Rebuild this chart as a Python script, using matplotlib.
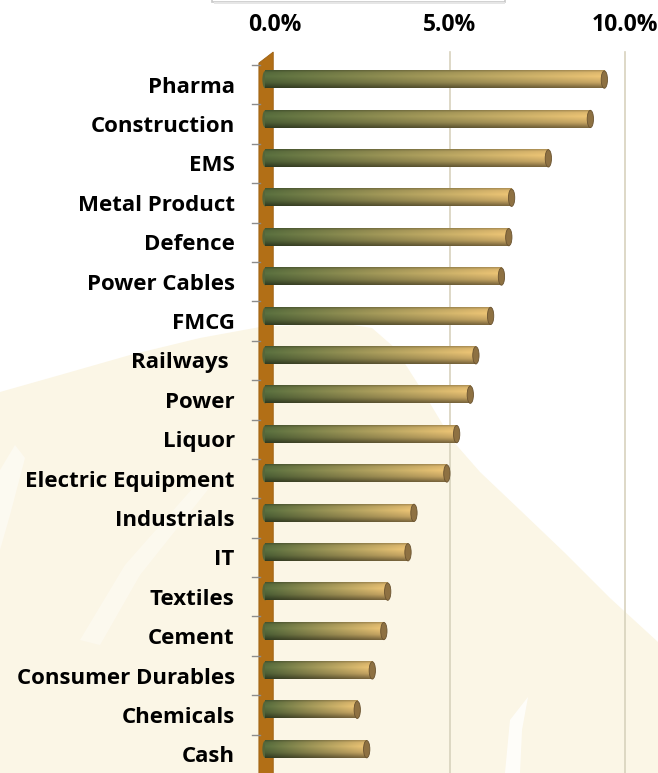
import numpy as np
import matplotlib
matplotlib.use("Agg")
import matplotlib.pyplot as plt
from matplotlib.patches import Polygon, Ellipse, Rectangle

# sector weights (%), top to bottom as shown
sectors = ["Pharma", "Construction", "EMS", "Metal Product", "Defence",
           "Power Cables", "FMCG", "Railways ", "Power", "Liquor",
           "Electric Equipment", "Industrials", "IT", "Textiles", "Cement",
           "Consumer Durables", "Chemicals", "Cash"]
weights = [9.50, 9.10, 7.90, 6.85, 6.77, 6.56, 6.25, 5.83, 5.67, 5.28,
           5.00, 4.06, 3.89, 3.31, 3.20, 2.87, 2.44, 2.71]
xticks = [0.0, 5.0, 10.0]

W, H = 658, 773
plt.rcParams["font.family"] = ["Open Sans", "DejaVu Sans"]
plt.rcParams["font.weight"] = "bold"

fig = plt.figure(figsize=(W / 100, H / 100), dpi=100)
fig.patch.set_facecolor("white")

# background watermark, drawn in pixel coordinates
bg = fig.add_axes([0, 0, 1, 1], zorder=-1)
bg.set_xlim(0, W)
bg.set_ylim(H, 0)
bg.axis("off")
cream = "#fbf6e6"
dome = [(0, 773), (0, 392), (60, 375), (130, 355), (200, 338), (260, 327),
        (340, 323), (372, 328), (395, 348), (425, 395), (452, 440),
        (480, 472), (520, 510), (565, 553), (610, 598), (658, 642), (658, 773)]
bg.add_patch(Polygon(dome, closed=True, fc=cream, ec="none"))
# faint lighter strokes of the watermark
bg.add_patch(Polygon([(0, 470), (15, 445), (25, 458), (10, 515), (0, 550)],
                     fc="white", ec="none", alpha=0.45))
bg.add_patch(Polygon([(80, 640), (125, 565), (200, 480), (210, 487),
                      (140, 575), (100, 645)], fc="white", ec="none", alpha=0.35))
bg.add_patch(Polygon([(505, 773), (510, 720), (528, 697), (522, 730), (520, 773)],
                     fc="white", ec="none", alpha=0.8))
# bottom edge of the title box at the top
bg.add_patch(Rectangle((212, -20), 293, 22, fc="white", ec="#c9c9c9", lw=1.2))
bg.add_patch(Rectangle((214, 2), 291, 2, fc="#e6e6e6", ec="none"))

ax = fig.add_axes([275 / W, -0.0013, 350 / W, 0.9172])
ax.patch.set_alpha(0)
n = len(sectors)
ax.set_xlim(0, 10)
ax.set_ylim(n - 0.5, -0.5)

# gridlines on the back wall
for g in xticks[1:]:
    ax.plot([g, g], [n - 0.5, -0.83], color="#d8d2bd", lw=1.2, clip_on=False, zorder=1)

# side wall
wall = [(-0.46, n + 0.1), (-0.46, -0.55), (-0.05, -0.83), (-0.05, n + 0.1)]
ax.add_patch(Polygon(wall, closed=True, fc="#b26f16", ec="#9c6012", lw=0.6,
                     clip_on=False, zorder=2))
# category tick marks
for k in range(n + 1):
    ax.plot([-0.66, -0.43], [k - 0.5, k - 0.5], color="#8c8c8c", lw=1,
            clip_on=False, zorder=2)

# cylinder bars
c_left = np.array([0.33, 0.41, 0.23])
c_mid = np.array([0.58, 0.55, 0.32])
c_right = np.array([0.87, 0.72, 0.43])
tx = np.linspace(0, 1, 256)
horiz = np.where(tx[:, None] < 0.45,
                 c_left + (c_mid - c_left) * (tx[:, None] / 0.45),
                 c_mid + (c_right - c_mid) * ((tx[:, None] - 0.45) / 0.55))
ty = np.linspace(0, 1, 40)
shade = np.interp(ty, [0, 0.12, 0.35, 0.7, 1.0], [0.78, 1.0, 1.08, 0.9, 0.55])
grad = np.clip(shade[:, None, None] * horiz[None, :, :], 0, 1)

bar_h = 0.44
cap_w = 0.18
x0 = -0.28
for i, v in enumerate(weights):
    yc = i - 0.13
    ax.imshow(grad, extent=(x0, v - cap_w / 2, yc + bar_h / 2, yc - bar_h / 2),
              aspect="auto", interpolation="bilinear", zorder=3, clip_on=False)
    ax.add_patch(Ellipse((x0, yc), cap_w * 0.9, bar_h, fc="#55663a", ec="none",
                         zorder=2.9, clip_on=False))
    ax.add_patch(Ellipse((v - cap_w / 2, yc), cap_w, bar_h, fc="#8e7142",
                         ec="#6a5330", lw=0.6, zorder=4, clip_on=False))

ax.set_xlim(0, 10)
ax.set_ylim(n - 0.5, -0.5)

ax.xaxis.tick_top()
ax.set_xticks(xticks)
ax.set_xticklabels([f"{t:.1f}%" for t in xticks], fontsize=16.5, fontweight="bold")
ax.set_yticks(range(n))
ax.set_yticklabels(sectors, fontsize=16, fontweight="bold")
ax.tick_params(axis="x", length=0, pad=20)
ax.tick_params(axis="y", length=0, pad=29)
for s in ax.spines.values():
    s.set_visible(False)

fig.savefig("out.png", dpi=100)
